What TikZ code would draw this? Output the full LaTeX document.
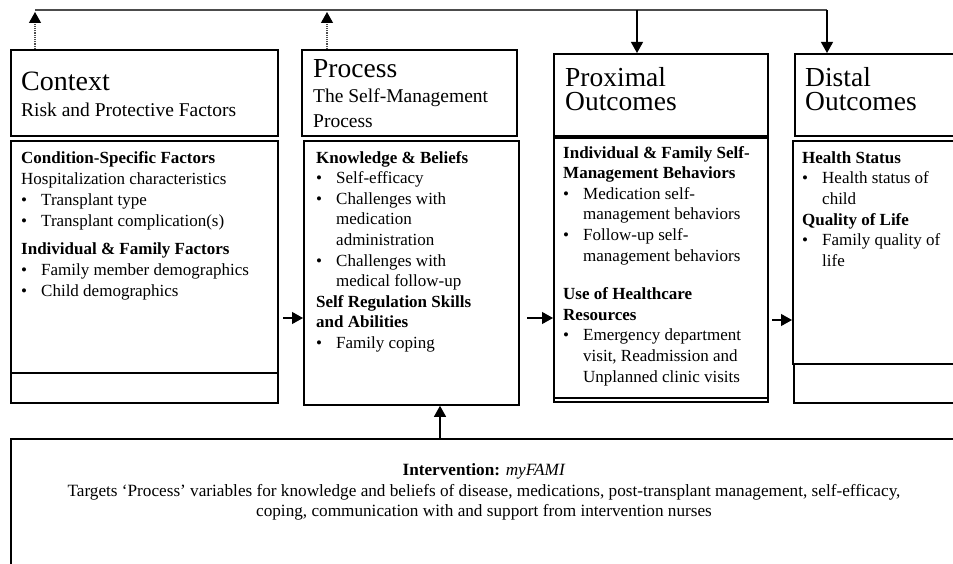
\documentclass[tikz,border=0pt]{standalone}
\usepackage{fontspec}
\setmainfont{Liberation Serif}
\usetikzlibrary{arrows.meta}
\usetikzlibrary{calc}

\newcommand\bul{\makebox[20pt][l]{\textbullet}}
\newcommand\cnt{\hspace*{20pt}}

\tikzset{
  box/.style={draw, line width=1.8pt, anchor=north west, inner sep=0pt},
  head/.style={anchor=base west, inner sep=0pt, align=left},
  body/.style={anchor=base west, inner sep=0pt, align=left, font=\fontsize{17}{20.6}\selectfont},
  arr/.style={line width=1.2pt, ->, >={Triangle[length=11pt,width=12pt,color=black]}},
  dotarr/.style={arr, densely dotted, gray!60!black},
}

\begin{document}
\begin{tikzpicture}[x=1pt, y=-1pt]
\clip (0,0) rectangle (953,564);

% boxes
\node[box, minimum width=267pt, minimum height=86pt] (ctxH) at (10,49) {};
\node[box, minimum width=267pt, minimum height=232pt] (ctxB) at (10,140) {};
\node[box, minimum width=267pt, minimum height=30pt] (ctxE) at (10,372) {};
\node[box, minimum width=215pt, minimum height=86pt] (prcH) at (301,49) {};
\node[box, minimum width=215pt, minimum height=264pt] (prcB) at (303,140) {};
\node[box, minimum width=214pt, minimum height=82pt] (prxH) at (553,53) {};
\node[box, minimum width=214pt, minimum height=260pt] (prxB) at (553,137) {};
\node[box, minimum width=214pt, minimum height=4pt] (prxE) at (553,397) {};
\node[box, minimum width=180pt, minimum height=82pt] (dstH) at (794,53) {};
\node[box, minimum width=180pt, minimum height=223pt] (dstB) at (792,140) {};
\node[box, minimum width=180pt, minimum height=39pt] (dstE) at (793,363) {};
\node[box, minimum width=980pt, minimum height=150pt] (ivn) at (10,438) {};

% headers (anchored at the last line)
\node[head, font=\fontsize{28}{24}\selectfont] (ctxT) at (21,91) {Context};
\node[head, font=\fontsize{19.5}{24}\selectfont] (ctxS) at (21,117) {Risk and Protective Factors};
\node[head, font=\fontsize{27.5}{24}\selectfont] (prcT) at (313,78) {Process};
\node[head, font=\fontsize{19.5}{24.5}\selectfont] (prcS) at (313,127.5) {The Self-Management\\Process};
\node[head, font=\fontsize{27.5}{24}\selectfont] (prxT) at (565,111) {Proximal\\Outcomes};
\node[head, font=\fontsize{27.5}{24}\selectfont] (dstT) at (805,111) {Distal\\Outcomes};

% contents
\node[body, font=\fontsize{17}{21}\selectfont] (ctxL) at (21,296) {\textbf{Condition-Specific Factors}\\
Hospitalization characteristics\\
\bul Transplant type\\
\bul Transplant complication(s)\\[7pt]
\textbf{Individual \& Family Factors}\\
\bul Family member demographics\\
\bul Child demographics};

\node[body] (prcL) at (316,348.4) {\textbf{Knowledge \& Beliefs}\\
\bul Self-efficacy\\
\bul Challenges with\\
\cnt medication\\
\cnt administration\\
\bul Challenges with\\
\cnt medical follow-up\\
\textbf{Self Regulation Skills}\\
\textbf{and Abilities}\\
\bul Family coping};

\node[body] (prxL) at (563,382) {\textbf{Individual \& Family Self-}\\
\textbf{Management Behaviors}\\
\bul Medication self-\\
\cnt management behaviors\\
\bul Follow-up self-\\
\cnt management behaviors\\[18pt]
\textbf{Use of Healthcare}\\
\textbf{Resources}\\
\bul Emergency department\\
\cnt visit, Readmission and\\
\cnt Unplanned clinic visits};

\node[body, font=\fontsize{17}{20.7}\selectfont] (dstL) at (802,266.5) {\textbf{Health Status}\\
\bul Health status of\\
\cnt child\\
\textbf{Quality of Life}\\
\bul Family quality of\\
\cnt life};

\node[anchor=base, inner sep=0pt, align=center, font=\fontsize{17.2}{19.5}\selectfont] (ivnL) at (484,516)
{\textbf{Intervention:} \textit{myFAMI}\\[2pt]
Targets `Process' variables for knowledge and beliefs of disease, medications, post-transplant management, self-efficacy,\\
coping, communication with and support from intervention nurses};

% links along the top
\coordinate (top) at (0,10);
\coordinate (tip) at (0,12);
\coordinate (u1) at (35,49);
\coordinate (u2) at (327,49);
\coordinate (d1) at (637,10);
\coordinate (d2) at (827,10);
\draw[line width=1.2pt, gray!60!black] (u1 |- top) -- (d2);
\draw[dotarr] (u1) -- (u1 |- tip);
\draw[dotarr] (u2) -- (u2 |- tip);
\draw[arr] (d1) -- (d1 |- prxH.north);
\draw[arr] (d2) -- (d2 |- dstH.north);

% links between the boxes
\coordinate (h1) at (283,318);
\coordinate (h2) at (527,318);
\coordinate (h3) at (772,320);
\draw[arr] (h1) -- (h1 -| prcB.west);
\draw[arr] (h2) -- (h2 -| prxB.west);
\draw[arr] (h3) -- (h3 -| dstB.west);
\coordinate (ia) at (440,438);
\draw[arr] (ia) -- (ia |- prcB.south);

\end{tikzpicture}
\end{document}
